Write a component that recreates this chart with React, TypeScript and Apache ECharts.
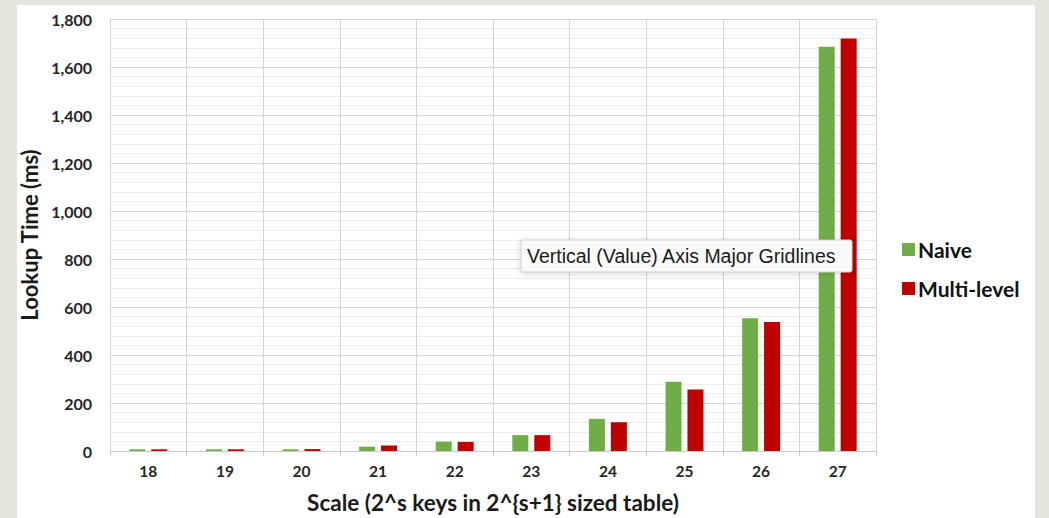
import React, { useEffect, useRef } from "react";
import * as echarts from "echarts";

const categories = ["18", "19", "20", "21", "22", "23", "24", "25", "26", "27"];
const naiveValues = [7, 7, 7, 18, 39, 66, 134, 289, 553, 1684];
const multiLevelValues = [7, 7, 8, 23, 38, 66, 120, 256, 538, 1719];
const seriesNames = ["Naive", "Multi-level"];
const yTickMax = 1800;
const yTickStep = 200;

export default function App() {
  const ref = useRef<HTMLDivElement>(null);
  useEffect(() => {
    if (!ref.current) return;
    const chart = echarts.init(ref.current, null, { renderer: "svg" });
    const labelFont = "Lato, 'Open Sans', sans-serif";
    chart.setOption({
      animation: false,
      backgroundColor: "#ffffff",
      textStyle: { fontFamily: labelFont },
      grid: { left: 93, top: 14, right: 159, bottom: 67, containLabel: false, outerBoundsMode: "none" },
      legend: {
        orient: "vertical",
        left: 885,
        top: 234,
        padding: 0,
        itemWidth: 13,
        itemHeight: 13,
        itemGap: 18,
        icon: "rect",
        data: seriesNames,
        textStyle: { fontSize: 21, fontWeight: "bold", color: "#111", fontFamily: labelFont, padding: [0, 0, 0, -2] },
      },
      xAxis: {
        type: "category",
        data: categories,
        boundaryGap: true,
        name: "Scale (2^s keys in 2^{s+1} sized table)",
        nameLocation: "middle",
        nameGap: 40,
        nameTextStyle: { fontSize: 22.5, fontWeight: "bold", color: "#1a1a1a", fontFamily: labelFont },
        axisLine: { show: true, lineStyle: { color: "#c8c8c8", width: 1 } },
        axisTick: { show: true, length: 5, lineStyle: { color: "#c8c8c8" } },
        axisLabel: { fontSize: 15.5, fontWeight: "bold", color: "#262626", margin: 12 },
        splitLine: { show: true, lineStyle: { color: "#d4d4d4", width: 1 } },
      },
      yAxis: {
        type: "value",
        min: 0,
        max: yTickMax,
        interval: yTickStep,
        name: "Lookup Time (ms)",
        nameLocation: "middle",
        nameGap: 65,
        nameRotate: 90,
        nameTextStyle: { fontSize: 22, fontWeight: "bold", color: "#1a1a1a", fontFamily: labelFont },
        axisLine: { show: false },
        axisTick: { show: false },
        axisLabel: {
          fontSize: 16,
          fontWeight: "bold",
          color: "#262626",
          margin: 18,
          formatter: (v: number) => v.toLocaleString("en-US"),
        },
        splitLine: { show: true, lineStyle: { color: "#d4d4d4", width: 1 } },
        minorTick: { show: false, splitNumber: 5 },
        minorSplitLine: { show: true, lineStyle: { color: "#ededed", width: 1 } },
      },
      series: [
        {
          name: seriesNames[0],
          type: "bar",
          data: naiveValues,
          barWidth: 16,
          barGap: "37%",
          itemStyle: { color: "#70ad47" },
        },
        {
          name: seriesNames[1],
          type: "bar",
          data: multiLevelValues,
          barWidth: 16,
          barGap: "37%",
          itemStyle: { color: "#c00000" },
        },
      ],
      graphic: [
        {
          type: "group",
          z: 100,
          children: [
            {
              type: "rect",
              shape: { x: 504, y: 235, width: 331, height: 32, r: 2 },
              style: {
                fill: "#fafafa",
                stroke: "#cfcfcf",
                lineWidth: 1,
                shadowBlur: 6,
                shadowColor: "rgba(0,0,0,0.18)",
                shadowOffsetY: 1,
              },
              z: 100,
            },
            {
              type: "text",
              x: 510,
              y: 251,
              style: {
                text: "Vertical (Value) Axis Major Gridlines",
                font: "19.5px 'Liberation Sans', Arial, sans-serif",
                fill: "#1a1a1a",
                textVerticalAlign: "middle",
                verticalAlign: "middle",
              },
              z: 101,
            },
          ],
        },
      ],
    });
    return () => chart.dispose();
  }, []);
  return (
    <div
      style={{
        position: "fixed",
        left: 0,
        top: 0,
        width: 1049,
        height: 518,
        background: "#e4e5dc",
      }}
    >
      <div
        ref={ref}
        style={{ position: "absolute", left: 17, top: 5, width: 1018, height: 513 }}
      />
    </div>
  );
}
